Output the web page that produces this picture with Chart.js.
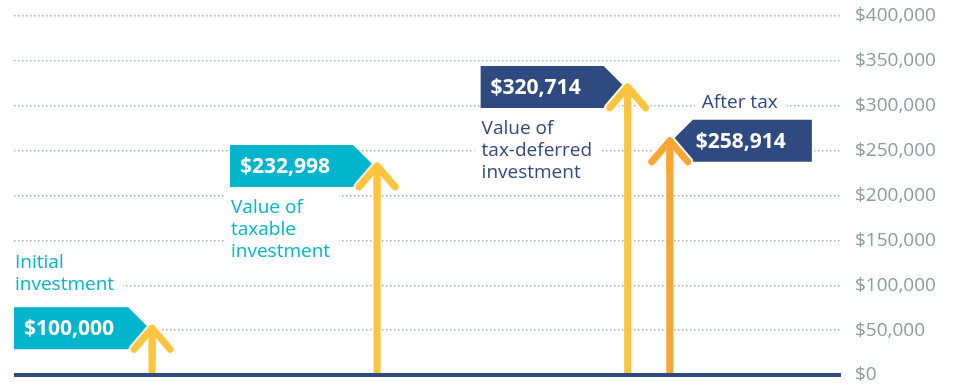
<!DOCTYPE html>
<html>
<head>
<meta charset="utf-8">
<script src="https://cdn.jsdelivr.net/npm/chart.js@4"></script>
<style>
  html, body { margin: 0; padding: 0; background: #fff; }
</style>
</head>
<body>
<canvas id="growthChart" width="955" height="390"></canvas>
<script>
// data
const labels = ['Initial investment', 'Value of taxable investment', 'Value of tax-deferred investment', 'After tax'];
const values = [100000, 232998, 320714, 258914];       // numbers in the callouts
const arrowTops = [52000, 233000, 321000, 261000];     // where each arrow tip sits on the axis
const arrowSlots = [16.7, 43.9, 74.2, 79.3];           // x position on a 0-100 scale
const notes = [['Initial', 'investment'], ['Value of', 'taxable', 'investment'], ['Value of', 'tax-deferred', 'investment'], ['After tax']];
const yTicks = [0, 50000, 100000, 150000, 200000, 250000, 300000, 350000, 400000];

// styling
const NAVY = '#2f4a80';
const TEAL = '#00b5cc';
const arrowColors = ['#ffc43d', '#ffc43d', '#ffc43d', '#faa634'];
const boxColors = [TEAL, TEAL, NAVY, NAVY];
const noteColors = [TEAL, TEAL, NAVY, NAVY];
const boxSide = ['left', 'left', 'left', 'right'];   // which side of the arrow the callout sits
const notePlace = ['above', 'below', 'below', 'above'];

function money(v) {
  return '$' + v.toLocaleString('en-US');
}

const calloutPlugin = {
  id: 'callouts',
  beforeDatasetsDraw(chart) {
    const ctx = chart.ctx;
    const xs = chart.scales.x, ys = chart.scales.y;
    const area = chart.chartArea;
    values.forEach((v, i) => {
      const ax = xs.getPixelForValue(arrowSlots[i]);
      const ay = ys.getPixelForValue(arrowTops[i]);
      const h = 42, point = 21;
      ctx.save();
      ctx.font = 'bold 21px "Open Sans"';
      const text = money(v);
      const tw = ctx.measureText(text).width;
      let tip, flat, back, tx, nx;
      if (boxSide[i] === 'left') {
        tip = ax - 3; flat = tip - point;
        back = Math.max(area.left, flat - 23 - tw - 10);
        tx = back + 10; nx = back + 1;
      } else {
        tip = ax + 2; flat = tip + point;
        tx = flat + 3; back = tx + tw + 26;
        nx = flat + 9;
      }
      ctx.beginPath();
      ctx.moveTo(back, ay - h / 2);
      ctx.lineTo(flat, ay - h / 2);
      ctx.lineTo(tip, ay);
      ctx.lineTo(flat, ay + h / 2);
      ctx.lineTo(back, ay + h / 2);
      ctx.closePath();
      ctx.fillStyle = boxColors[i];
      ctx.fill();
      ctx.fillStyle = '#fff';
      ctx.textBaseline = 'middle';
      ctx.textAlign = 'left';
      ctx.fillText(text, tx, ay + 1);

      // note text with a white patch so the grid stops around it
      const lines = notes[i];
      const lh = 22;
      ctx.font = '19px "Open Sans"';
      let firstY;
      if (notePlace[i] === 'above') {
        firstY = (notes[i].length === 1) ? ay - h / 2 - 17 : ay - h / 2 - 23 - lh * (lines.length - 1);
      } else {
        firstY = ay + h / 2 + 21;
      }
      const lastY = firstY + lh * (lines.length - 1);
      const maxW = Math.max(...lines.map(l => ctx.measureText(l).width));
      ctx.fillStyle = '#fff';
      ctx.fillRect(nx - 7, firstY - 15, maxW + 16, lastY - firstY + 28);
      ctx.fillStyle = noteColors[i];
      lines.forEach((l, k) => ctx.fillText(l, nx, firstY + k * lh));
      ctx.restore();
    });
  },
  afterDatasetsDraw(chart) {
    const ctx = chart.ctx;
    const xs = chart.scales.x, ys = chart.scales.y;
    arrowTops.forEach((t, i) => {
      const ax = xs.getPixelForValue(arrowSlots[i]);
      const ay = ys.getPixelForValue(t);
      ctx.save();
      ctx.lineCap = 'round';
      ctx.lineJoin = 'round';
      ctx.beginPath();
      ctx.moveTo(ax - 18, ay + 21);
      ctx.lineTo(ax, ay);
      ctx.lineTo(ax + 18, ay + 21);
      ctx.strokeStyle = '#fff';
      ctx.lineWidth = 11;
      ctx.stroke();
      ctx.beginPath();
      ctx.moveTo(ax - 18, ay + 21);
      ctx.lineTo(ax, ay);
      ctx.lineTo(ax + 18, ay + 21);
      ctx.moveTo(ax, ay);
      ctx.lineTo(ax, ay + 30);
      ctx.strokeStyle = arrowColors[i];
      ctx.lineWidth = 7;
      ctx.stroke();
      ctx.restore();
    });
  }
};

const shafts = arrowTops.map((t, i) => ({
  label: labels[i],
  data: [{ x: arrowSlots[i], y: 0 }, { x: arrowSlots[i], y: t }],
  borderColor: arrowColors[i],
  borderWidth: 7,
  borderCapStyle: 'butt',
  pointRadius: 0,
  showLine: true
}));

new Chart('growthChart', {
  type: 'scatter',
  data: {
    datasets: [{
      label: 'base',
      data: [{ x: 0, y: 0 }, { x: 100, y: 0 }],
      borderColor: NAVY,
      borderWidth: 4,
      pointRadius: 0,
      showLine: true,
      clip: false
    }].concat(shafts)
  },
  options: {
    responsive: false,
    animation: false,
    events: [],
    layout: { padding: { left: 14, top: 16, right: 0, bottom: 15 } },
    plugins: {
      legend: { display: false },
      tooltip: { enabled: false }
    },
    scales: {
      x: { type: 'linear', min: 0, max: 100, display: false },
      y: {
        position: 'right',
        min: 0,
        max: 400000,
        afterBuildTicks: s => { s.ticks = yTicks.map(v => ({ value: v })); },
        afterFit: s => {
          s.width = 114;
          s.paddingTop = 0;
          s.paddingBottom = 0;
        },
        ticks: {
          callback: v => money(v),
          color: '#8d9b9b',
          padding: 14,
          font: { family: 'Open Sans', size: 19 }
        },
        grid: { drawTicks: false, color: '#a9b2b2', lineWidth: 1.5 },
        border: { display: false, dash: [1.5, 2.5] }
      }
    }
  },
  plugins: [calloutPlugin]
});
</script>
</body>
</html>
